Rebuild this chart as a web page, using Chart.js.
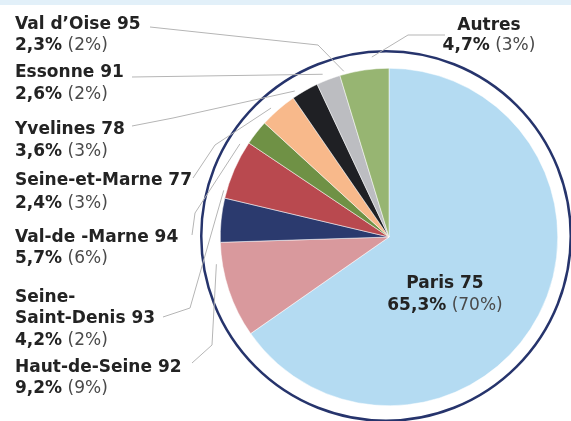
<!DOCTYPE html>
<html>
<head>
<meta charset="utf-8">
<script src="https://cdn.jsdelivr.net/npm/chart.js@4.4.1/dist/chart.umd.min.js"></script>
<style>
  html, body { margin: 0; padding: 0; background: #fff; }
  #wrap { position: relative; width: 571px; height: 421px; overflow: hidden; }
  #band { position: absolute; left: 0; top: 0; width: 571px; height: 5px; background: #e2f0f9; }
  canvas { position: absolute; left: 0; top: 0; }
</style>
</head>
<body>
<div id="wrap">
  <canvas id="pie" width="571" height="421"></canvas>
  <div id="band"></div>
</div>
<script>
// Data
const categories = ['Paris 75', 'Haut-de-Seine 92', 'Seine-Saint-Denis 93', 'Val-de -Marne 94',
  'Seine-et-Marne 77', 'Yvelines 78', 'Essonne 91', 'Val d’Oise 95', 'Autres'];
const shares = [65.3, 9.2, 4.2, 5.7, 2.4, 3.6, 2.6, 2.3, 4.7];
const sharesRef = [70, 9, 2, 6, 3, 3, 2, 2, 3];
const colors = ['#b4dbf2', '#d9999d', '#2b3a6e', '#b9494f', '#6f9145',
  '#f8b98b', '#1f2024', '#bcbdc1', '#97b572'];

const FONT = '"DejaVu Sans", "Open Sans", sans-serif';
const SIZE = 17;
const DARK = '#232323';
const GREY = '#4a4a4a';

// label placement: text lines, anchor, baselines, leader elbows, end nudge (deg, px)
const labelLayout = [
  { lines: ['Paris 75'], x: 445, y: [288, 310], align: 'center' },
  { lines: ['Haut-de-Seine 92'], x: 15, y: [372, 393], pts: [[192, 363], [212, 345]], da: 9.4, dr: 6 },
  { lines: ['Seine-', 'Saint-Denis 93'], x: 15, y: [302, 323, 345], pts: [[163, 317], [190, 308]], da: 10, dr: 3 },
  { lines: ['Val-de -Marne 94'], x: 15, y: [242, 263], pts: [[192, 235], [195, 213]], da: 8.4, dr: 7 },
  { lines: ['Seine-et-Marne 77'], x: 15, y: [185, 208], pts: [[193, 178], [215, 145]], da: 9.4, dr: 6 },
  { lines: ['Yvelines 78'], x: 15, y: [134, 156], pts: [[132, 126], [173, 118]], da: 8.2, dr: 5 },
  { lines: ['Essonne 91'], x: 15, y: [77, 99], pts: [[132, 77]], da: 7.7, dr: 7 },
  { lines: ['Val d’Oise 95'], x: 15, y: [29, 50], pts: [[150, 27], [318, 45]], da: 5.8, dr: 3 },
  { lines: ['Autres'], x: 489, y: [30, 50], align: 'center', pts: [[445, 35], [408, 35]], da: 3, dr: 12 }
];

const fmt = v => v.toFixed(1).replace('.', ',') + '%';

const labelsPlugin = {
  id: 'labels',
  afterDraw(chart) {
    const ctx = chart.ctx;
    const arcs = chart.getDatasetMeta(0).data;
    const cx = arcs[0].x, cy = arcs[0].y, r = arcs[0].outerRadius;

    // outer ring
    ctx.save();
    ctx.beginPath();
    ctx.arc(cx - 3, cy - 1, r + 16, 0, Math.PI * 2);
    ctx.strokeStyle = '#26346c';
    ctx.lineWidth = 2.5;
    ctx.stroke();
    ctx.restore();

    labelLayout.forEach((lab, i) => {
      const arc = arcs[i];
      // leader line
      if (lab.pts) {
        const mid = (arc.startAngle + arc.endAngle) / 2 + lab.da * Math.PI / 180;
        const rr = arc.outerRadius + lab.dr;
        const end = [arc.x + Math.cos(mid) * rr, arc.y + Math.sin(mid) * rr];
        ctx.save();
        ctx.beginPath();
        ctx.moveTo(lab.pts[0][0], lab.pts[0][1]);
        lab.pts.slice(1).forEach(p => ctx.lineTo(p[0], p[1]));
        ctx.lineTo(end[0], end[1]);
        ctx.strokeStyle = '#b5b5b5';
        ctx.lineWidth = 1;
        ctx.stroke();
        ctx.restore();
      }
      // text
      const bold = '700 ' + SIZE + 'px ' + FONT;
      const light = '400 ' + SIZE + 'px ' + FONT;
      ctx.save();
      ctx.textBaseline = 'alphabetic';
      ctx.fillStyle = DARK;
      ctx.font = bold;
      ctx.textAlign = lab.align || 'left';
      lab.lines.forEach((t, k) => ctx.fillText(t, lab.x, lab.y[k]));
      const yv = lab.y[lab.lines.length];
      const a = fmt(shares[i]);
      const b = ' (' + sharesRef[i] + '%)';
      const wa = ctx.measureText(a).width;
      ctx.font = light;
      const wb = ctx.measureText(b).width;
      let x0 = lab.x;
      if (lab.align === 'center') x0 = lab.x - (wa + wb) / 2;
      ctx.textAlign = 'left';
      ctx.font = bold;
      ctx.fillStyle = DARK;
      ctx.fillText(a, x0, yv);
      ctx.font = light;
      ctx.fillStyle = GREY;
      ctx.fillText(b, x0 + wa, yv);
      ctx.restore();
    });
  }
};

new Chart(document.getElementById('pie'), {
  type: 'pie',
  data: {
    labels: categories,
    datasets: [{
      data: shares,
      backgroundColor: colors,
      borderColor: '#ffffff',
      borderWidth: 0.5
    }]
  },
  options: {
    responsive: false,
    animation: false,
    layout: { padding: { left: 220, right: 13, top: 68, bottom: 15 } },
    plugins: {
      legend: { display: false },
      tooltip: { enabled: false }
    }
  },
  plugins: [labelsPlugin]
});
</script>
</body>
</html>
